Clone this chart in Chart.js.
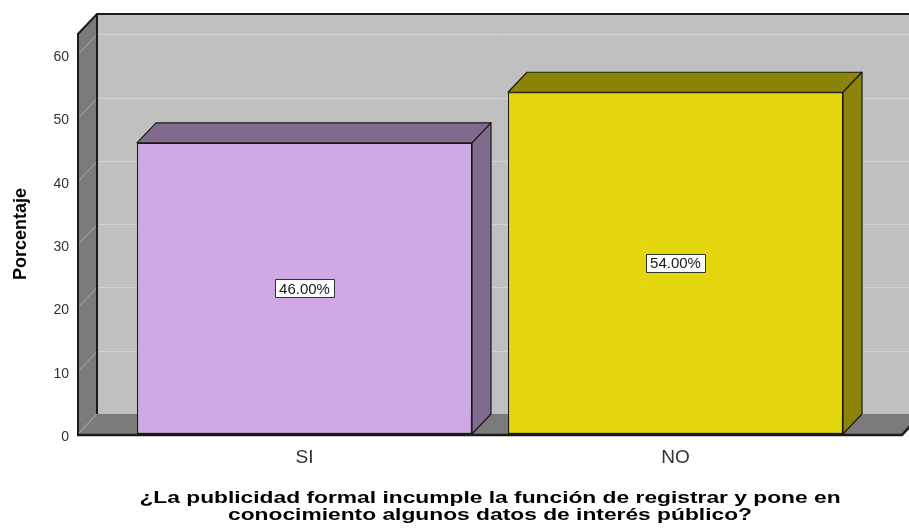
<!DOCTYPE html>
<html>
<head>
<meta charset="utf-8">
<script src="https://cdn.jsdelivr.net/npm/chart.js@4/dist/chart.umd.min.js"></script>
<style>
  html, body { margin: 0; padding: 0; background: #ffffff; }
  #wrap { width: 909px; height: 532px; position: relative; }
</style>
</head>
<body>
<div id="wrap"><canvas id="chart" width="909" height="532"></canvas></div>
<script>
// Respuestas y porcentajes
const categories = ['SI', 'NO'];
const porcentajes = [46, 54];
const axisTitleY = 'Porcentaje';
const axisTitleX = [
  '¿La publicidad formal incumple la función de registrar y pone en',
  'conocimiento algunos datos de interés público?'
];

const FONT = "'Liberation Sans', Arial, sans-serif";
const frontColors = ['#d0a9e4', '#e3d60f'];
const shadeColors = ['#806b8c', '#8b8409'];

// Perspective offset of the box (depth towards the back)
const DEPTH = { dx: 19, dy: -20 };
// Floor / walls reach a bit beyond the outer categories
const EDGE = 41;
// The axis caption is set in a wide bold face
const CAPTION_STRETCH = 1.34;

const box3d = {
  id: 'box3d',
  beforeDatasetsDraw(chart) {
    const { ctx, chartArea: ca, scales } = chart;
    const y = scales.y;
    const { dx, dy } = DEPTH;
    const L = ca.left - EDGE, R = ca.right + EDGE, T = ca.top, B = ca.bottom;
    ctx.save();
    // back wall
    ctx.fillStyle = '#c0c0c0';
    ctx.fillRect(L + dx, T + dy, R - L, B - T);
    // left wall
    ctx.fillStyle = '#7b7b7b';
    ctx.beginPath();
    ctx.moveTo(L, T); ctx.lineTo(L + dx, T + dy); ctx.lineTo(L + dx, B + dy); ctx.lineTo(L, B);
    ctx.closePath(); ctx.fill();
    // floor
    ctx.beginPath();
    ctx.moveTo(L, B); ctx.lineTo(L + dx, B + dy); ctx.lineTo(R + dx, B + dy); ctx.lineTo(R, B);
    ctx.closePath(); ctx.fill();
    // gridlines on the walls
    ctx.lineWidth = 1;
    y.ticks.forEach(t => {
      if (t.value === 0) return;
      const py = Math.round(y.getPixelForValue(t.value)) + 0.5;
      ctx.strokeStyle = '#d2d2d2';
      ctx.beginPath(); ctx.moveTo(L + dx, py + dy); ctx.lineTo(R + dx, py + dy); ctx.stroke();
      ctx.strokeStyle = '#a9a9a9';
      ctx.beginPath(); ctx.moveTo(L, py); ctx.lineTo(L + dx, py + dy); ctx.stroke();
    });
    ctx.strokeStyle = '#a9a9a9';
    ctx.beginPath(); ctx.moveTo(L, B); ctx.lineTo(L + dx, B + dy); ctx.stroke();
    // outlines
    ctx.strokeStyle = '#1a1a1a';
    ctx.lineWidth = 2;
    ctx.beginPath();
    ctx.moveTo(L, B); ctx.lineTo(L, T); ctx.lineTo(L + dx, T + dy); ctx.lineTo(R + dx, T + dy);
    ctx.stroke();
    ctx.beginPath(); ctx.moveTo(L + dx, T + dy); ctx.lineTo(L + dx, B + dy); ctx.stroke();
    ctx.lineWidth = 2.5;
    ctx.beginPath(); ctx.moveTo(L - 1, B + 1); ctx.lineTo(R, B + 1); ctx.lineTo(R + dx, B + dy); ctx.stroke();
    ctx.restore();
  },
  afterDatasetsDraw(chart) {
    const { ctx } = chart;
    const { dx, dy } = DEPTH;
    const meta = chart.getDatasetMeta(0);
    ctx.save();
    meta.data.forEach((bar, i) => {
      const p = bar.getProps(['x', 'y', 'width', 'base'], true);
      const l = p.x - p.width / 2, r = p.x + p.width / 2;
      ctx.fillStyle = shadeColors[i];
      ctx.strokeStyle = '#1a1a1a';
      ctx.lineWidth = 1.2;
      ctx.lineJoin = 'round';
      // top face
      ctx.beginPath();
      ctx.moveTo(l, p.y); ctx.lineTo(l + dx, p.y + dy); ctx.lineTo(r + dx, p.y + dy); ctx.lineTo(r, p.y);
      ctx.closePath(); ctx.fill(); ctx.stroke();
      // side face
      ctx.beginPath();
      ctx.moveTo(r, p.y); ctx.lineTo(r + dx, p.y + dy); ctx.lineTo(r + dx, p.base + dy); ctx.lineTo(r, p.base);
      ctx.closePath(); ctx.fill(); ctx.stroke();

      // value label box on the front face
      const val = chart.data.datasets[0].data[i];
      const txt = val.toFixed(2) + '%';
      ctx.font = '15px ' + FONT;
      const tw = ctx.measureText(txt).width;
      const bw = Math.round(tw + 8), bh = 18;
      const cx = p.x, cy = (p.y + p.base) / 2;
      const bx = Math.round(cx - bw / 2) + 0.5, by = Math.round(cy - bh / 2) + 0.5;
      ctx.fillStyle = '#ffffff';
      ctx.fillRect(bx, by, bw, bh);
      ctx.strokeStyle = '#333333';
      ctx.lineWidth = 1;
      ctx.strokeRect(bx, by, bw, bh);
      ctx.fillStyle = '#1a1a1a';
      ctx.textAlign = 'center';
      ctx.textBaseline = 'middle';
      ctx.fillText(txt, cx, cy + 1);
    });
    ctx.restore();
  },
  afterDraw(chart) {
    // category axis caption, centred under the plot
    const { ctx, chartArea: ca } = chart;
    const cx = (ca.left + ca.right) / 2;
    ctx.save();
    ctx.font = 'bold 17px ' + FONT;
    ctx.fillStyle = '#000000';
    ctx.textAlign = 'center';
    ctx.textBaseline = 'middle';
    axisTitleX.forEach((line, k) => {
      ctx.save();
      ctx.translate(cx, 498 + k * 17);
      ctx.scale(CAPTION_STRETCH, 1);
      ctx.fillText(line, 0, 0);
      ctx.restore();
    });
    ctx.restore();
  }
};

new Chart(document.getElementById('chart'), {
  type: 'bar',
  data: {
    labels: categories,
    datasets: [{
      data: porcentajes,
      backgroundColor: frontColors,
      borderColor: '#1a1a1a',
      borderWidth: 1.2,
      borderSkipped: false,
      categoryPercentage: 1,
      barPercentage: 0.903
    }]
  },
  options: {
    responsive: false,
    animation: false,
    events: [],
    layout: { padding: { top: 34, right: 48, left: 0, bottom: 0 } },
    plugins: {
      legend: { display: false },
      tooltip: { enabled: false },
      title: { display: false }
    },
    scales: {
      x: {
        grid: { display: false, drawTicks: false },
        border: { display: false },
        ticks: { color: '#333333', font: { family: FONT, size: 19 }, padding: 12 },
        title: { display: false },
        afterFit(scale) { scale.height = 98; scale.paddingLeft = 0; scale.paddingRight = 0; }
      },
      y: {
        min: 0,
        max: 63.2,
        grid: { display: false, drawTicks: false },
        border: { display: false },
        ticks: {
          stepSize: 10,
          includeBounds: false,
          color: '#333333',
          font: { family: FONT, size: 14 },
          padding: 9 + EDGE,
          labelOffset: 3
        },
        title: {
          display: true,
          text: axisTitleY,
          color: '#000000',
          font: { family: FONT, size: 18, weight: 'bold' },
          padding: { top: 10, bottom: 0 }
        },
        afterFit(scale) { scale.width = 78 + EDGE; scale.paddingTop = 0; scale.paddingBottom = 0; }
      }
    }
  },
  plugins: [box3d]
});
</script>
</body>
</html>
